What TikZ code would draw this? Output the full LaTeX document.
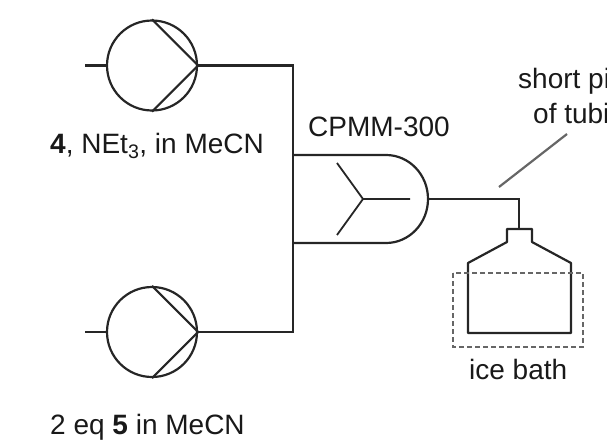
\documentclass[tikz,border=0pt]{standalone}
\usepackage{fontspec}
\setmainfont{Liberation Sans}
\usetikzlibrary{positioning}

\tikzset{
    pipe/.style={line width=2.2pt, draw=black!85},
    pumpbody/.style={circle, pipe, minimum size=90pt, inner sep=0pt},
    lbl/.style={font=\fontsize{28}{33}\selectfont, text=black!90, inner sep=0pt, anchor=base west},
}

\begin{document}
\begin{tikzpicture}[x=1pt,y=-1pt]
            \useasboundingbox (0,0) rectangle (607,439);
            % pumps
            \foreach \n/\y in {a/65.5,b/332} {
                \node[pumpbody] (pump\n) at (152,\y) {};
                \coordinate (inlet\n) at (85,\y);
                \draw[pipe] (inlet\n) -- (pump\n.west);
                \draw[pipe] (pump\n.north) -- (pump\n.east) -- (pump\n.south);
            }
            % mixer
            \coordinate (mixtop) at (293,155);
            \coordinate (mixbot) at (293,243);
            \coordinate (mixout) at (428,199);
            \coordinate (core) at (363,199);
            \coordinate (armup) at (337,163);
            \coordinate (armdown) at (337,235);
            \coordinate (armout) at (410,199);
            \draw[pipe] (mixtop) -- (386,155) arc[start angle=-90, end angle=90, x radius=42, y radius=44] -- (mixbot);
            \draw[pipe, line width=1.8pt] (armup) -- (core) -- (armdown) (core) -- (armout);
            % tubing
            \coordinate (junction) at (293,65.5);
            \coordinate (junctionb) at (293,332);
            \draw[pipe] (pumpa.east) -- (junction) -- (junctionb) -- (pumpb.east);
            % flask
            \coordinate (neck) at (519,229);
            \draw[pipe] (mixout) -- (519,199) -- (neck);
            \draw[pipe, line join=round] (468,333) -- (468,263) -- (507,242) -- (507,229) -- (532,229) -- (532,242) -- (571,263) -- (571,333) -- cycle;
            \draw[line width=1.7pt, draw=black!60, dash pattern=on 5pt off 3pt] (453,273) rectangle (583,347);
            % pointer
            \coordinate (ptrtop) at (567,134);
            \coordinate (ptrbot) at (499,187);
            \draw[line width=2.2pt, draw=black!60] (ptrtop) -- (ptrbot);
            % labels
            \node[lbl] (lblfour) at (50,153) {\textbf{4}, NEt\textsubscript{3}, in MeCN};
            \node[lbl] (lblfive) at (50,434) {2 eq \textbf{5} in MeCN};
            \node[lbl] (lblcpmm) at (308,136) {CPMM-300};
            \node[lbl] (lblshort) at (518,88) {short pi};
            \node[lbl] (lbltube) at (533,123) {of tubi};
            \node[lbl] (lblice) at (469,379) {ice bath};
        \end{tikzpicture}
\end{document}
